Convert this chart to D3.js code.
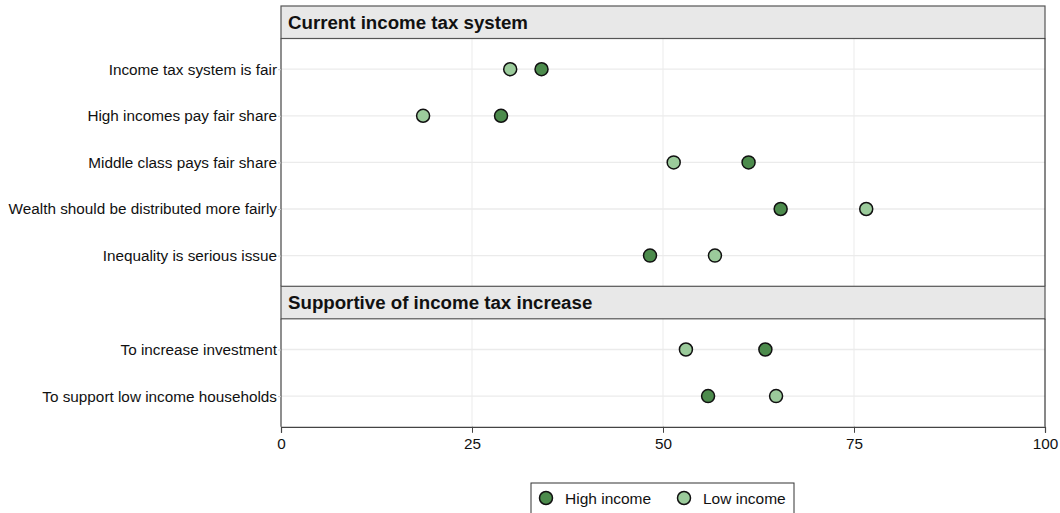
<!doctype html>
<html>
<head>
<style>
  body { margin: 0; background: #fff; }
  text { font-family: "Liberation Sans", Arial, sans-serif; }
</style>
<script src="https://d3js.org/d3.v7.min.js"></script>
</head>
<body>
<svg width="1060" height="513"></svg>
<script>
// data
var panels = ["Current income tax system", "Supportive of income tax increase"];
var panelItems = [
  ["Income tax system is fair", "High incomes pay fair share", "Middle class pays fair share",
   "Wealth should be distributed more fairly", "Inequality is serious issue"],
  ["To increase investment", "To support low income households"]
];
var highIncome = [
  [34.1, 28.8, 61.2, 65.4, 48.3],
  [63.4, 55.9]
];
var lowIncome = [
  [30.0, 18.6, 51.4, 76.6, 56.8],
  [53.0, 64.8]
];
var seriesNames = ["High income", "Low income"];
var seriesColors = ["#4c8b4c", "#9bcb9b"];
var xTicks = [0, 25, 50, 75, 100];

var svg = d3.select("svg");
var left = 281, right = 1045;
var stripH = 32.5, step = 46.6, pad = 30.7;
var fontF = "'Liberation Sans', Arial, sans-serif";

var x = d3.scaleLinear().domain([0, 100]).range([left, right]);

var curTop = 6;
var lastBottom = 0;
panels.forEach(function(title, i) {
  var items = panelItems[i];
  var h = (items.length - 1) * step + 2 * pad;
  var pTop = curTop + stripH;
  var pBot = pTop + h;
  var y = d3.scalePoint().domain(items).range([pTop + pad, pBot - pad]);

  var g = svg.append("g");

  // grid
  g.selectAll(".vg").data(xTicks.slice(1, -1)).enter().append("line")
    .attr("x1", d => x(d)).attr("x2", d => x(d))
    .attr("y1", pTop).attr("y2", pBot)
    .attr("stroke", "#ebebeb").attr("stroke-width", 1);
  g.selectAll(".hg").data(items).enter().append("line")
    .attr("x1", left).attr("x2", right)
    .attr("y1", d => y(d)).attr("y2", d => y(d))
    .attr("stroke", "#ebebeb").attr("stroke-width", 1.3);

  // strip
  g.append("rect").attr("x", left).attr("y", curTop).attr("width", right - left).attr("height", stripH)
    .attr("fill", "#e8e8e8").attr("stroke", "#555").attr("stroke-width", 1.2);
  g.append("text").attr("x", left + 7).attr("y", curTop + stripH / 2 + 6.5)
    .attr("font-size", 18.7).attr("font-weight", "bold").attr("fill", "#111").text(title);

  // borders
  g.append("line").attr("x1", left).attr("x2", left).attr("y1", pTop).attr("y2", pBot)
    .attr("stroke", "#444").attr("stroke-width", 1.2);
  g.append("line").attr("x1", right).attr("x2", right).attr("y1", pTop).attr("y2", pBot)
    .attr("stroke", "#111").attr("stroke-width", 1);

  // y axis labels
  var ya = g.append("g").attr("transform", "translate(" + left + ",0)")
    .call(d3.axisLeft(y).tickSize(3).tickPadding(1));
  ya.select(".domain").remove();
  ya.selectAll(".tick line").attr("stroke", "#ccc");
  ya.selectAll("text").attr("font-size", 15.3).attr("fill", "#111")
    .style("font-family", fontF);

  // dots
  [highIncome[i], lowIncome[i]].forEach(function(vals, s) {
    g.selectAll(".d" + s).data(items).enter().append("circle")
      .attr("cx", (d, k) => x(vals[k]))
      .attr("cy", d => y(d))
      .attr("r", 6.5)
      .attr("fill", seriesColors[s])
      .attr("stroke", "#111").attr("stroke-width", 1.5);
  });

  curTop = pBot;
  lastBottom = pBot;
});

// x axis
var xa = svg.append("g").attr("transform", "translate(0," + lastBottom + ")")
  .call(d3.axisBottom(x).tickValues(xTicks).tickSize(6).tickPadding(5));
xa.select(".domain").attr("stroke", "#444").attr("stroke-width", 1.2);
xa.selectAll(".tick line").attr("stroke", "#444");
xa.selectAll("text").attr("font-size", 15.3).attr("fill", "#111")
  .style("font-family", fontF);

// legend
var lg = svg.append("g");
lg.append("rect").attr("x", 531).attr("y", 483).attr("width", 263).attr("height", 40)
  .attr("fill", "#fff").attr("stroke", "#333").attr("stroke-width", 1);
var lx = [546, 684];
seriesNames.forEach(function(n, s) {
  lg.append("circle").attr("cx", lx[s]).attr("cy", 498).attr("r", 6.5)
    .attr("fill", seriesColors[s]).attr("stroke", "#111").attr("stroke-width", 1.5);
  lg.append("text").attr("x", lx[s] + 19).attr("y", 503.5).attr("font-size", 15.5)
    .attr("fill", "#111").text(n);
});
</script>
</body>
</html>
